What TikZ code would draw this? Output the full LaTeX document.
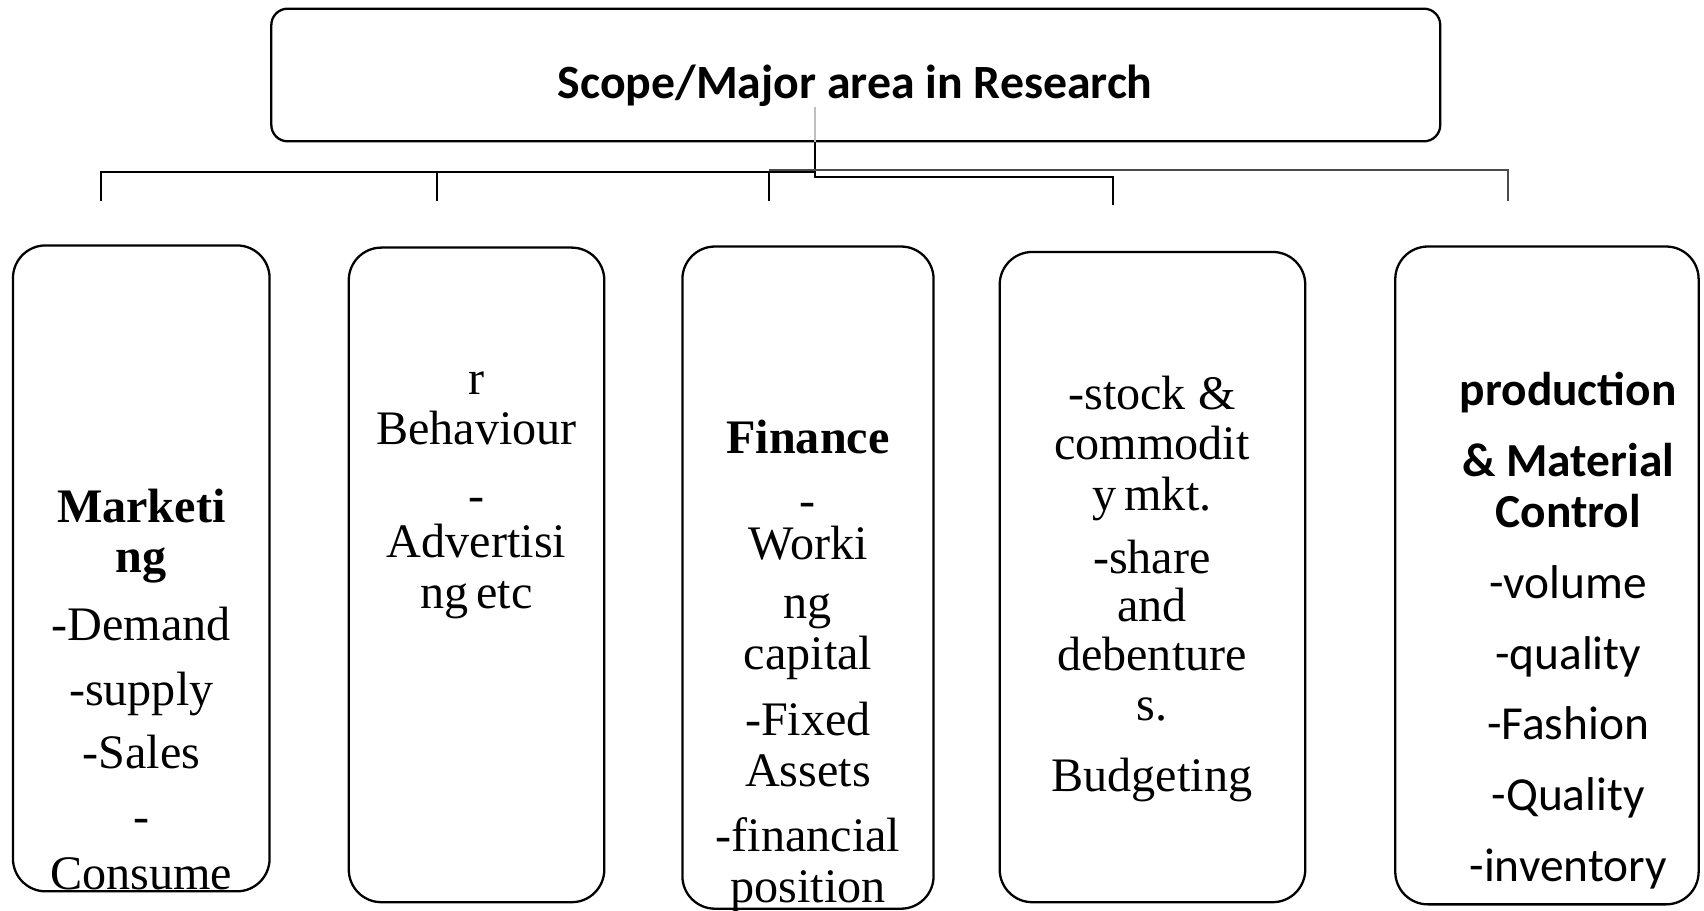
\documentclass[tikz,border=0pt]{standalone}
\usepackage{fontspec}
\setmainfont{Liberation Serif}
\newfontfamily\calibri{Carlito}
\usetikzlibrary{positioning}

\begin{document}
\begin{tikzpicture}[x=0.01cm,y=-0.01cm,
    panel/.style={draw,line width=0.6pt,rounded corners=0.3cm,inner sep=0pt},
    items/.style={align=center,inner sep=0pt,anchor=north,
      font=\fontsize{12.6}{13.2}\selectfont},
    link/.style={line width=0.5pt}]
  \useasboundingbox (0,0) rectangle (1568,838);
  % heading
  \node[panel,rounded corners=0.15cm,minimum width=10.75cm,minimum height=1.22cm] (scope) at (787.5,69) {};
  \node[anchor=base,font=\calibri\bfseries\fontsize{12.5}{15}\selectfont] (title) at (787,91) {Scope/Major area in Research};
  % the five areas
  \node[panel,minimum width=2.36cm,minimum height=5.94cm] (mkt) at (130,523) {};
  \node[panel,minimum width=2.35cm,minimum height=6.02cm] (beh) at (438.5,529) {};
  \node[panel,minimum width=2.31cm,minimum height=6.09cm] (fin) at (743.5,531.5) {};
  \node[panel,minimum width=2.81cm,minimum height=5.98cm] (stk) at (1060.5,531) {};
  \node[panel,minimum width=2.79cm,minimum height=6.05cm] (prod) at (1423.5,529.5) {};
  \node[items] (mkttxt) at (130,449) {\textbf{Marketi}\\\textbf{ng}\\[4.5pt]-Demand\\[3.8pt]-supply\\[3.3pt]-Sales\\[3.6pt]-\\[1.8pt]Consume};
  \node[items] (behtxt) at (438.5,341) {r\\Behaviour\\[4.3pt]-\\[-1pt]Advertisi\\ng\,etc};
  \node[items,font=\fontsize{12.6}{13.4}\selectfont] (fintxt) at (743.5,385.5) {\textbf{Finance}\\[3.1pt]-\\[-2pt]Worki\\[2pt]ng\\capital\\[3.7pt]-Fixed\\Assets\\[3.7pt]-financial\\position};
  \node[items] (stktxt) at (1060,345) {-stock \&\\commodit\\y\,mkt.\\[3.3pt]-share\\[-0.5pt]and\\[-0.5pt]debenture\\s.\\[5.4pt]Budgeting};
  \node[items,font=\calibri\fontsize{12.4}{18.5}\selectfont] (prodtxt) at (1443,342) {\textbf{production}\\\textbf{\& Material}\\[-5.1pt]\textbf{Control}\\-volume\\-quality\\-Fashion\\-Quality\\-inventory};
  % connectors
  \coordinate (tick) at (750,98);
  \coordinate (jn) at (750,163);
  \coordinate (jw) at (750,158);
  \coordinate (jg) at (708,156);
  \coordinate (d1) at (93,185);
  \coordinate (d2) at (402,185);
  \coordinate (d3) at (708,185);
  \coordinate (d4) at (1024,189);
  \coordinate (d5) at (1388,185);
  \draw[gray!50,line width=0.4pt] (tick) -- (scope.south -| tick);
  \draw[link] (scope.south -| jn) -- (jn) -| (d4);
  \draw[link] (d1) |- (jw);
  \draw[link] (d2) -- (d2 |- jw) (d3) -- (d3 |- jw);
  \draw[link,black!70] (jg) -| (d5);
\end{tikzpicture}
\end{document}
